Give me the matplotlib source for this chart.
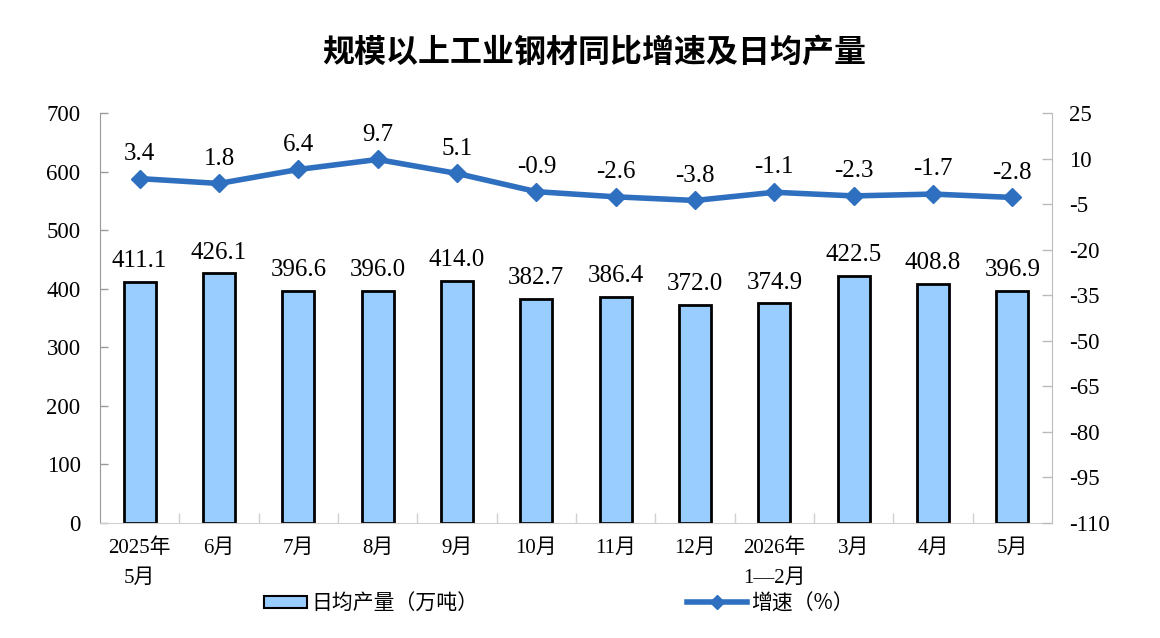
import matplotlib
matplotlib.use("Agg")
import matplotlib.pyplot as plt
from matplotlib.patches import Patch
from matplotlib.lines import Line2D

categories = ["2025年\n5月", "6月", "7月", "8月", "9月", "10月", "11月", "12月",
              "2026年\n1—2月", "3月", "4月", "5月"]
output = [411.1, 426.1, 396.6, 396.0, 414.0, 382.7, 386.4, 372.0, 374.9, 422.5, 408.8, 396.9]
growth = [3.4, 1.8, 6.4, 9.7, 5.1, -0.9, -2.6, -3.8, -1.1, -2.3, -1.7, -2.8]
left_ticks = [0, 100, 200, 300, 400, 500, 600, 700]
right_ticks = [25, 10, -5, -20, -35, -50, -65, -80, -95, -110]

serif = ["Liberation Serif", "Noto Sans CJK SC"]
cjk = ["Noto Sans CJK SC", "DejaVu Sans"]
plt.rcParams["font.family"] = serif

fig = plt.figure(figsize=(11.6, 6.38), dpi=100)
ax = fig.add_axes([100/1160, 1-523/638, 952/1160, 410/638])
x = list(range(len(categories)))

bar_color = "#99CCFF"
line_color = "#2F6FBF"

ax.bar(x, output, width=0.4, color=bar_color, edgecolor="black", linewidth=2, zorder=2)
for xi, v in zip(x, output):
    ax.annotate(f"{v:.1f}", (xi, v), xytext=(0, 7), textcoords="offset points",
                ha="center", va="bottom", fontsize=18, family=serif)

ax.set_xlim(-0.5, len(categories) - 0.5)
ax.set_ylim(0, 700)
ax.set_yticks(left_ticks)
ax.set_yticklabels([str(t) for t in left_ticks], fontsize=16.5)
ax.set_xticks([i + 0.5 for i in range(len(categories) - 1)], minor=False)
ax.set_xticklabels([])
ax.tick_params(axis="x", direction="in", length=7, color="#D0D0D0", width=1)
ax.tick_params(axis="y", direction="in", length=6, color="#999999", width=1, pad=14)
for i, lab in enumerate(categories):
    ax.text(i, -0.038, lab, transform=ax.get_xaxis_transform(), ha="center", va="top",
            fontsize=15, family=serif, linespacing=1.75)

ax.spines["top"].set_visible(False)
ax.spines["right"].set_visible(False)
ax.spines["left"].set_color("#999999")
ax.spines["bottom"].set_color("#D0D0D0")

ax2 = ax.twinx()
ax2.plot(x, growth, color=line_color, linewidth=4, marker="D", markersize=9,
         zorder=3)
for xi, v in zip(x, growth):
    ax2.annotate(f"{v:.1f}", (xi, v), xytext=(0, 10), textcoords="offset points",
                 ha="center", va="bottom", fontsize=18, family=serif)
ax2.set_ylim(-110, 25)
ax2.set_yticks(right_ticks)
ax2.set_yticklabels([str(t) for t in right_ticks], fontsize=16.5)
ax2.tick_params(axis="y", direction="in", length=7, color="#BBBBBB", width=1, pad=12)
for s in ["top", "left", "bottom"]:
    ax2.spines[s].set_visible(False)
ax2.spines["right"].set_color("#BBBBBB")

fig.text(0.512, 0.918, "规模以上工业钢材同比增速及日均产量", ha="center", va="center",
         fontsize=23, fontweight="bold", family=cjk)

h1 = Patch(facecolor=bar_color, edgecolor="black", linewidth=1.5)
h2 = Line2D([], [], color=line_color, linewidth=4, marker="D", markersize=7)
leg1 = fig.legend([h1], ["日均产量（万吨）"], loc="center", bbox_to_anchor=(0.32, 0.054),
                  frameon=False, prop={"family": cjk, "size": 15}, handlelength=2.1,
                  handleheight=0.55, handletextpad=0.2)
leg2 = fig.legend([h2], ["增速（%）"], loc="center", bbox_to_anchor=(0.664, 0.054),
                  frameon=False, prop={"family": cjk, "size": 15}, handlelength=2.9,
                  handletextpad=0.2)

fig.savefig("out.png", dpi=100)
